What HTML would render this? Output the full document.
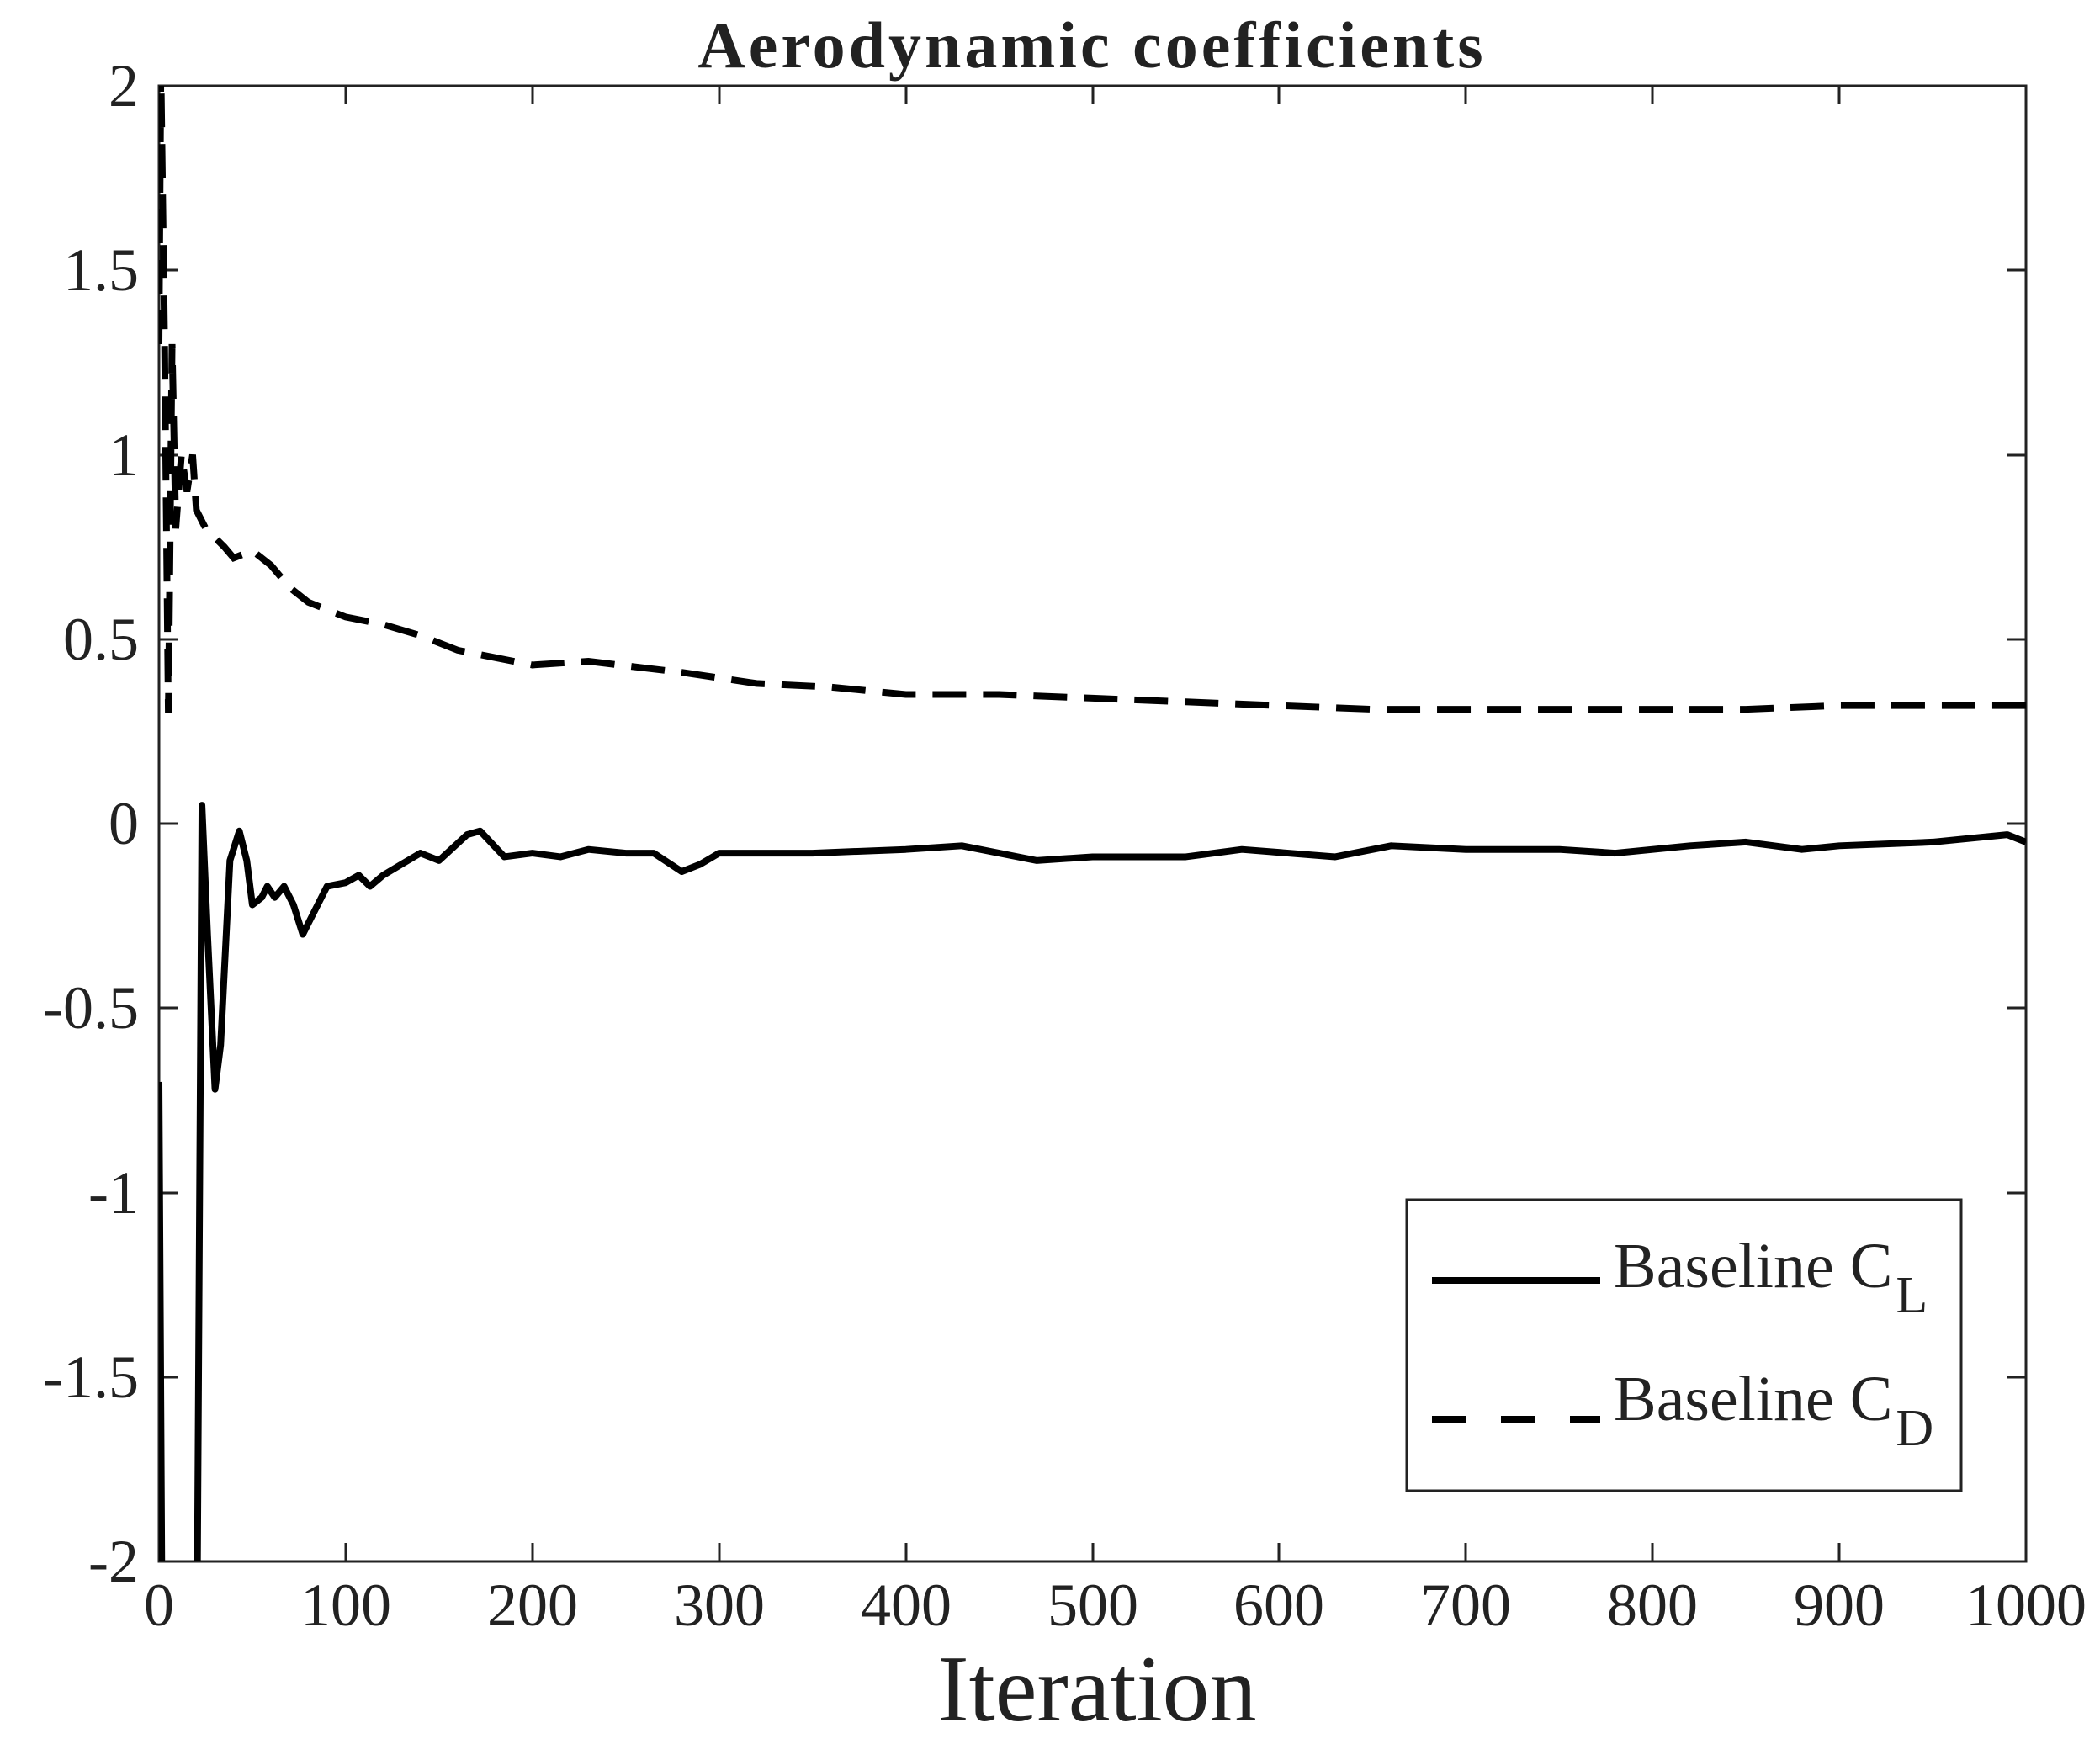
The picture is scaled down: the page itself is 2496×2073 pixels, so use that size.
<!DOCTYPE html>
<html><head><meta charset="utf-8"><style>
html,body{margin:0;padding:0;background:#fff;}
svg{display:block;}
text{font-family:"Liberation Serif",serif;fill:#222;}
</style></head><body>
<svg width="2496" height="2073" viewBox="0 0 2496 2073" xmlns="http://www.w3.org/2000/svg">
<defs><clipPath id="c"><rect x="189" y="102" width="2219" height="1754"/></clipPath></defs>
<text x="1298" y="80" font-size="78" font-weight="bold" text-anchor="middle" fill="#111" letter-spacing="4">Aerodynamic coefficients</text>
<rect x="189" y="102" width="2219" height="1754" fill="none" stroke="#222" stroke-width="3"/>
<g stroke="#222" stroke-width="3">
<path d="M411 1856v-22M633 1856v-22M855 1856v-22M1077 1856v-22M1299 1856v-22M1520 1856v-22M1742 1856v-22M1964 1856v-22M2186 1856v-22
M411 102v22M633 102v22M855 102v22M1077 102v22M1299 102v22M1520 102v22M1742 102v22M1964 102v22M2186 102v22
M189 321h22M189 541h22M189 760h22M189 979h22M189 1198h22M189 1418h22M189 1637h22
M2408 321h-22M2408 541h-22M2408 760h-22M2408 979h-22M2408 1198h-22M2408 1418h-22M2408 1637h-22"/>
</g>
<g font-size="72" text-anchor="end">
<text x="165" y="126">2</text><text x="165" y="345">1.5</text><text x="165" y="565">1</text><text x="165" y="784">0.5</text>
<text x="165" y="1003">0</text><text x="165" y="1222">-0.5</text><text x="165" y="1442">-1</text><text x="165" y="1661">-1.5</text><text x="165" y="1880">-2</text>
</g>
<g font-size="72" text-anchor="middle">
<text x="189" y="1932">0</text><text x="411" y="1932">100</text><text x="633" y="1932">200</text><text x="855" y="1932">300</text><text x="1077" y="1932">400</text><text x="1299" y="1932">500</text><text x="1520" y="1932">600</text><text x="1742" y="1932">700</text><text x="1964" y="1932">800</text><text x="2186" y="1932">900</text><text x="2408" y="1932">1000</text>
</g>
<text x="1304" y="2045" font-size="112" text-anchor="middle">Iteration</text>
<g clip-path="url(#c)">
<g transform="matrix(2.219 0 0 -438.5 189 979)" fill="none" stroke="#000">
<polyline vector-effect="non-scaling-stroke" stroke-width="8" stroke-dasharray="40 20" points="0,1.3 1,2.05 3,1.3 5,0.3 7,1.3 9,0.8 12,1.0 15,0.9 18,1.0 20,0.85 25,0.8 35,0.75 40,0.72 50,0.74 60,0.7 70,0.64 80,0.6 100,0.56 120,0.54 140,0.51 160,0.47 200,0.43 230,0.44 280,0.41 320,0.38 360,0.37 400,0.35 450,0.35 500,0.34 550,0.33 600,0.32 650,0.31 700,0.31 800,0.31 850,0.31 900,0.32 1000,0.32"/>
<polyline vector-effect="non-scaling-stroke" stroke-width="8" stroke-linejoin="round" points="0,-0.7 2,-2.5 20,-2.5 23,0.05 26,-0.3 30,-0.72 33,-0.6 38,-0.1 43,-0.02 47,-0.1 50,-0.22 55,-0.2 58,-0.17 62,-0.2 67,-0.17 72,-0.22 77,-0.3 82,-0.25 90,-0.17 100,-0.16 107,-0.14 113,-0.17 120,-0.14 130,-0.11 140,-0.08 150,-0.1 165,-0.03 172,-0.02 185,-0.09 200,-0.08 215,-0.09 230,-0.07 250,-0.08 265,-0.08 280,-0.13 290,-0.11 300,-0.08 350,-0.08 400,-0.07 430,-0.06 470,-0.1 500,-0.09 550,-0.09 580,-0.07 630,-0.09 660,-0.06 700,-0.07 750,-0.07 780,-0.08 820,-0.06 850,-0.05 880,-0.07 900,-0.06 950,-0.05 990,-0.03 1000,-0.05"/>
</g>
</g>
<rect x="1672" y="1426" width="659" height="346" fill="#fff" stroke="#222" stroke-width="3"/>
<path d="M1702 1522h200" stroke="#000" stroke-width="8"/>
<path d="M1702 1687h200" stroke="#000" stroke-width="8" stroke-dasharray="40 42"/>
<text x="1918" y="1530" font-size="76">Baseline C<tspan font-size="62" dx="4" dy="30">L</tspan></text>
<text x="1918" y="1688" font-size="76">Baseline C<tspan font-size="62" dx="4" dy="30">D</tspan></text>
</svg>
</body></html>
